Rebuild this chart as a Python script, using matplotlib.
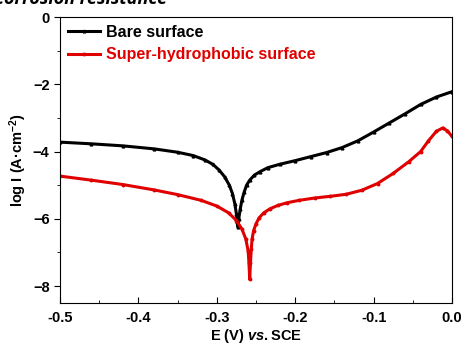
import numpy as np
import matplotlib.pyplot as plt
from matplotlib.ticker import MultipleLocator, FormatStrFormatter

plt.rcParams['font.family'] = ['Liberation Sans', 'DejaVu Sans']
plt.rcParams['font.weight'] = 'bold'
plt.rcParams['axes.labelweight'] = 'bold'
plt.rcParams['mathtext.fontset'] = 'custom'
plt.rcParams['mathtext.rm'] = 'Liberation Sans:bold'
plt.rcParams['mathtext.bf'] = 'Liberation Sans:bold'
plt.rcParams['mathtext.it'] = 'Liberation Sans:italic:bold'
plt.rcParams['mathtext.default'] = 'rm'

# Bare surface: potential (V vs SCE) and log current density
E_bare = np.array([-0.500, -0.460, -0.420, -0.380, -0.350, -0.330, -0.315, -0.305,
                   -0.297, -0.290, -0.284, -0.280, -0.277, -0.275, -0.274, -0.273,
                   -0.272, -0.270, -0.268, -0.265, -0.262, -0.258, -0.252, -0.245,
                   -0.235, -0.220, -0.200, -0.180, -0.160, -0.140, -0.120, -0.100,
                   -0.080, -0.060, -0.040, -0.020, 0.000])
logI_bare = np.array([-3.72, -3.77, -3.83, -3.92, -4.02, -4.12, -4.25, -4.38,
                      -4.55, -4.75, -5.00, -5.25, -5.55, -5.85, -6.10, -6.25,
                      -6.00, -5.70, -5.45, -5.20, -5.00, -4.85, -4.70, -4.60,
                      -4.48, -4.38, -4.27, -4.15, -4.03, -3.88, -3.68, -3.42,
                      -3.15, -2.88, -2.60, -2.38, -2.22])

# Super-hydrophobic surface
E_shs = np.array([-0.500, -0.460, -0.420, -0.380, -0.350, -0.320, -0.300, -0.285,
                  -0.275, -0.268, -0.263, -0.260, -0.259, -0.258, -0.257, -0.256,
                  -0.255, -0.253, -0.250, -0.246, -0.240, -0.232, -0.222, -0.210,
                  -0.195, -0.175, -0.155, -0.135, -0.115, -0.095, -0.075, -0.055,
                  -0.040, -0.030, -0.020, -0.012, -0.006, 0.000])
logI_shs = np.array([-4.73, -4.85, -4.98, -5.14, -5.28, -5.45, -5.62, -5.82,
                     -6.05, -6.30, -6.60, -6.95, -7.30, -7.80, -7.30, -6.90,
                     -6.60, -6.35, -6.15, -5.97, -5.82, -5.70, -5.60, -5.52,
                     -5.45, -5.38, -5.33, -5.27, -5.15, -4.95, -4.65, -4.30,
                     -4.00, -3.68, -3.40, -3.30, -3.38, -3.55])

fig = plt.figure(figsize=(4.65, 3.47), dpi=100)
ax = fig.add_axes([0.129, 0.127, 0.843, 0.824])

ax.plot(E_bare, logI_bare, color='black', lw=2.2, marker='^', ms=2, label='Bare surface')
ax.plot(E_shs, logI_shs, color='#e00000', lw=2.2, marker='o', ms=1.8,
        label='Super-hydrophobic surface')

ax.set_xlim(-0.5, 0.0)
ax.set_ylim(-8.5, 0)
ax.xaxis.set_major_locator(MultipleLocator(0.1))
ax.xaxis.set_minor_locator(MultipleLocator(0.05))
ax.xaxis.set_major_formatter(FormatStrFormatter('%.1f'))
ax.yaxis.set_major_locator(MultipleLocator(2))
ax.yaxis.set_minor_locator(MultipleLocator(1))
ax.tick_params(axis='x', which='both', direction='in', labelsize=10.5, pad=6)
ax.tick_params(axis='y', which='both', direction='out', labelsize=10.5)
ax.tick_params(which='major', length=4)
ax.tick_params(which='minor', length=2.5)
for lab in ax.get_xticklabels() + ax.get_yticklabels():
    lab.set_fontweight('bold')

ax.set_xlabel(r'E (V) $\it{vs.}$SCE', fontsize=10.5, fontweight='bold', labelpad=1)
ax.set_ylabel(r'log I (A·cm$^{-2}$)', fontsize=10.5, fontweight='bold', labelpad=3)

leg = ax.legend(loc='upper left', frameon=False, handlelength=2.0,
                prop={'size': 11.5, 'weight': 'bold'},
                borderaxespad=0.1, labelspacing=0.45, handletextpad=0.35,
                bbox_to_anchor=(0.0, 1.0))
for txt, c in zip(leg.get_texts(), ['black', '#e00000']):
    txt.set_color(c)

fig.text(167 / 465, 0.988, 'Corrosion resistance', ha='right', va='baseline',
         fontsize=13, fontweight='bold', style='italic', family='Open Sans')

fig.savefig('out.png', dpi=100)
